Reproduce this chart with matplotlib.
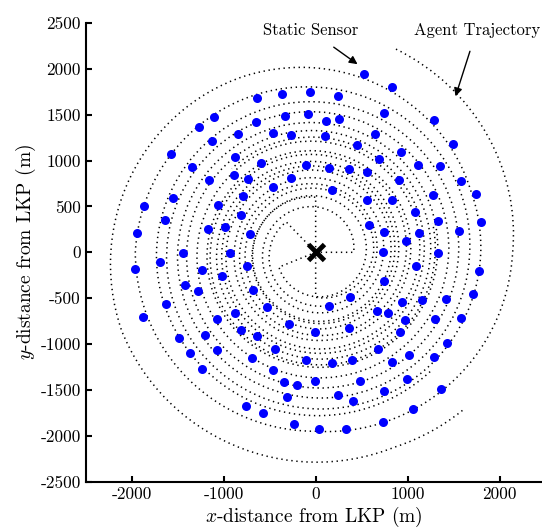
import numpy as np
import matplotlib.pyplot as plt
from matplotlib.path import Path
from matplotlib.patches import PathPatch

plt.rcParams['font.family'] = 'cmr10'
plt.rcParams['mathtext.fontset'] = 'cm'
plt.rcParams['axes.unicode_minus'] = False

# static sensor positions (m from LKP)
sensor_x = [-635, -365, -1100, -1270, -645, -335, -1125, -840, -460, -270,
            -1570, -875, -595, -105, -1345, -890, -730, -265, -1155, -460,
            -1550, -795, -1870, -1060, -1640, -815, -985, -1175, -715, -1940,
            530, 825, -60, 240, -80, 745, 110, 250, 1285, 645,
            105, 1490, 445, 925, 690, 140, 360, 560, 1110, 1350,
            905, 1575, 175, 1270, 1740, 555, 835, 1075, 1800, 1335,
            585, 745, 1125, 1555, 980, -1440, -930, -1965, -1695, -1230,
            -745, -1415, -1280, -1020, -685, -1625, -1875, -525, -875, -1070,
            -295, -810, -640, -1480, -1200, -440, -1370, -1075, -690, -110,
            -1230, -465, -345, -205, -310, -760, -575, -240, 735, 1335,
            1770, 1090, 740, 1705, 375, 145, 940, 1160, 1415, 670,
            790, 970, 1295, 1585, -5, 360, 915, 1425, 680, 1015,
            1290, 175, 400, 825, 995, -10, 480, 1360, 240, 410,
            740, 1060, 35, 325, 730]
sensor_y = [1680, 1725, 1480, 1370, 1415, 1490, 1210, 1290, 1305, 1275,
            1070, 1040, 975, 950, 925, 845, 800, 815, 785, 710,
            595, 615, 505, 520, 355, 410, 280, 250, 200, 215,
            1940, 1805, 1745, 1705, 1505, 1515, 1430, 1450, 1445, 1285,
            1270, 1185, 1165, 1095, 1015, 920, 905, 870, 955, 945,
            785, 775, 675, 620, 640, 565, 575, 435, 325, 345,
            295, 225, 215, 230, 125, -5, -5, -185, -105, -195,
            -145, -355, -425, -260, -415, -565, -700, -600, -660, -730,
            -785, -845, -915, -930, -905, -1050, -1100, -1070, -1155, -1175,
            -1270, -1280, -1410, -1445, -1580, -1670, -1755, -1875, 5, -10,
            -205, -145, -310, -450, -490, -585, -545, -520, -505, -640,
            -665, -735, -730, -720, -865, -820, -865, -985, -1050, -1120,
            -1140, -1205, -1175, -1200, -1380, -1400, -1405, -1495, -1555, -1620,
            -1515, -1705, -1925, -1930, -1850]

# agent trajectories (counter-clockwise): heading of first and last point
# (deg) and distance from LKP (m) every quarter turn, then the last point
agent_start_deg = [0, 202, 270, 90, 134]
agent_end_deg = [1869, 2113, 1755, 855, 1094]
agent_radii = [
    [413, 495, 576, 658, 739, 812, 886, 960, 1033, 1106, 1180, 1253, 1326,
     1413, 1500, 1587, 1674, 1800, 1960, 1950, 2141, 2382],
    [430, 500, 565, 632, 700, 767, 835, 914, 993, 1071, 1150, 1229, 1308,
     1386, 1465, 1552, 1640, 1727, 1815, 2070, 2275, 2290, 2349],
    [490, 630, 698, 766, 834, 902, 989, 1076, 1163, 1250, 1326, 1402, 1478,
     1554, 1640, 1730, 1780, 1800],
    [600, 690, 775, 860, 940, 1020, 1100, 1180, 1255, 1290],
    [460, 545, 625, 705, 785, 865, 945, 1025, 1105, 1185, 1265, 1310],
]


def trajectory_path(start, end, radii):
    th = np.arange(start, end, 90.0)[:len(radii) - 1]
    th = np.deg2rad(np.append(th, end))
    r = np.asarray(radii, float)
    pts = np.column_stack([r * np.cos(th), r * np.sin(th)])
    verts = [(0.0, 0.0), pts[0]]
    codes = [Path.MOVETO, Path.LINETO]
    for i in range(len(r) - 1):
        d = th[i + 1] - th[i]
        k = 4.0 / 3.0 * np.tan(d / 4.0)
        dr = (r[i + 1] - r[i]) / d
        t0 = np.array([dr * np.cos(th[i]) - r[i] * np.sin(th[i]),
                       dr * np.sin(th[i]) + r[i] * np.cos(th[i])])
        t1 = np.array([dr * np.cos(th[i + 1]) - r[i + 1] * np.sin(th[i + 1]),
                       dr * np.sin(th[i + 1]) + r[i + 1] * np.cos(th[i + 1])])
        verts += [pts[i] + k * t0, pts[i + 1] - k * t1, pts[i + 1]]
        codes += [Path.CURVE4] * 3
    return Path(verts, codes)


fig = plt.figure(figsize=(5.42, 5.29), dpi=100)
ax = fig.add_axes([0.158, 0.0894, 0.842, 0.8673])

for s, e, rr in zip(agent_start_deg, agent_end_deg, agent_radii):
    ax.add_patch(PathPatch(trajectory_path(s, e, rr), fill=False, color='k',
                           lw=1.1, linestyle=(0, (0.9, 2.4))))

ax.plot(sensor_x, sensor_y, 'o', color='#0000ff', ms=6.5, mec='none', zorder=3)
ax.plot(0, 0, 'x', color='k', ms=11, mew=3.5, zorder=4)

ax.annotate('Static Sensor', xy=(455, 2050), xytext=(-60, 2420),
            ha='center', va='center', fontsize=12,
            arrowprops=dict(arrowstyle='-|>', color='k', lw=1.0,
                            shrinkA=8, shrinkB=0, mutation_scale=12))
ax.annotate('Agent Trajectory', xy=(1520, 1700), xytext=(1750, 2420),
            ha='center', va='center', fontsize=12,
            arrowprops=dict(arrowstyle='-|>', color='k', lw=1.0,
                            shrinkA=8, shrinkB=0, mutation_scale=12))

ax.set_xlim(-2500, 2460)
ax.set_ylim(-2500, 2500)
ax.set_xticks([-2000, -1000, 0, 1000, 2000])
ax.set_yticks(np.arange(-2500, 2501, 500))
ax.spines['top'].set_visible(False)
ax.spines['right'].set_visible(False)
ax.spines['left'].set_linewidth(1.5)
ax.spines['bottom'].set_linewidth(1.5)
ax.tick_params(direction='in', length=4, width=1.5, labelsize=12.5)
ax.set_xlabel(r'$x$-distance from LKP (m)', fontsize=14, labelpad=2)
ax.set_ylabel(r'$y$-distance from LKP (m)', fontsize=14, labelpad=2)

fig.savefig('out.png', dpi=100)
